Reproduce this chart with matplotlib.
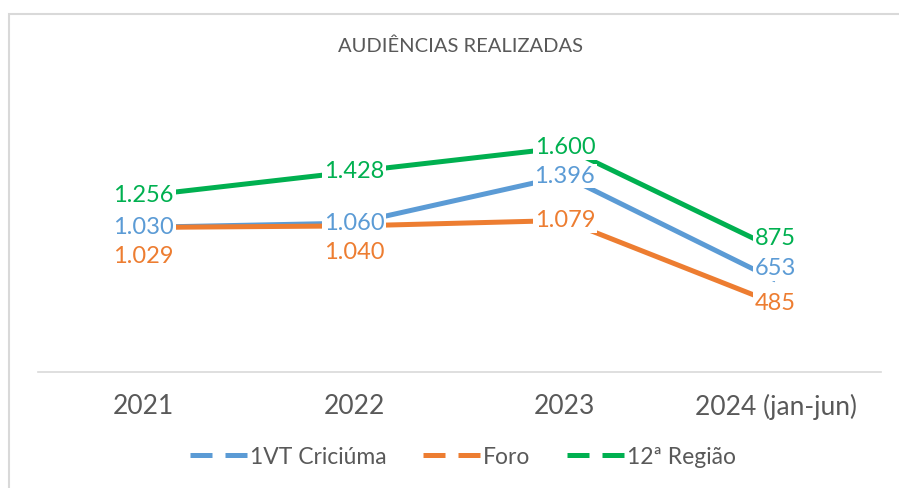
import matplotlib
matplotlib.use("Agg")
import matplotlib.pyplot as plt
from matplotlib.lines import Line2D
from matplotlib.patches import Rectangle

plt.rcParams['font.family'] = ['Lato', 'DejaVu Sans']

categories = ["2021", "2022", "2023", "2024 (jan-jun)"]
series_names = ["1VT Criciúma", "Foro", "12ª Região"]
vt_criciuma = [1030, 1060, 1396, 653]
foro = [1029, 1040, 1079, 485]
regiao12 = [1256, 1428, 1600, 875]
title = "AUDIÊNCIAS REALIZADAS"

colors = ["#5B9BD5", "#ED7D31", "#00B050"]
series = [vt_criciuma, foro, regiao12]

# label offsets (points) per series per category
label_offsets = [
    [0, 0, 0, 8],
    [-21, -19, 0, 0],
    [0, 0, 0, 7.5],
]

W, H = 899, 488
fig = plt.figure(figsize=(W / 100, H / 100), dpi=100)
ax = fig.add_axes([38 / W, (H - 371.5) / H, 843 / W, 252 / H])

x = list(range(len(categories)))
for vals, c in zip(series, colors):
    ax.plot(x, vals, color=c, lw=3.6, solid_capstyle='butt', zorder=2)

def fmt(v):
    return f"{v:,}".replace(",", ".")

for si, (vals, c) in enumerate(zip(series, colors)):
    for i, v in enumerate(vals):
        ax.annotate(fmt(v), (i, v), xytext=(0, label_offsets[si][i]),
                    textcoords='offset points', ha='center', va='center',
                    fontsize=17, color=c, zorder=5 + si,
                    bbox=dict(boxstyle='square,pad=0.08', fc='white', ec='none'))

ax.set_xlim(-0.5, 3.5)
ax.set_ylim(0, 1800)
ax.set_xticks(x)
ax.set_xticklabels(categories, fontsize=19, color='#595959')
ax.tick_params(axis='x', length=0, pad=16)
ax.set_yticks([])
for s in ['top', 'right', 'left']:
    ax.spines[s].set_visible(False)
ax.spines['bottom'].set_color('#D9D9D9')
ax.spines['bottom'].set_linewidth(1.2)

fig.text(460 / W, 1 - 46 / H, title, ha='center', va='center',
         fontsize=14.5, color='#595959')

handles = [Line2D([0], [0], color=c, lw=3.6, dashes=(4.4, 2.6), dash_capstyle='butt')
           for c in colors]
fig.legend(handles, series_names, loc='center', bbox_to_anchor=(463 / W, 1 - 457 / H),
           ncol=3, frameon=False, fontsize=16.5, handlelength=2.5,
           handletextpad=0.1, columnspacing=1.6, labelcolor='#595959')

fig.patches.append(Rectangle((8.5 / W, -1), 3, 2 - 13.5 / H, transform=fig.transFigure,
                             fill=False, ec='#D9D9D9', lw=1.5, clip_on=False))

fig.savefig("out.png", dpi=100)
